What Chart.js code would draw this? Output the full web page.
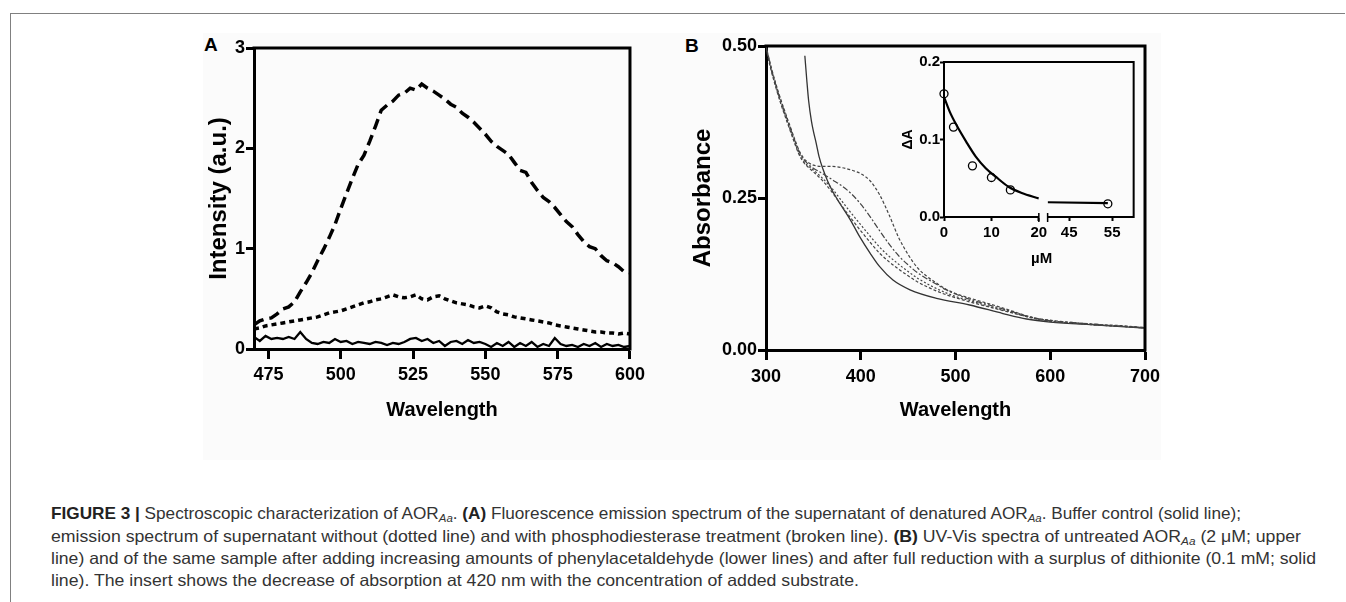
<!DOCTYPE html>
<html><head><meta charset="utf-8">
<script src="https://cdn.jsdelivr.net/npm/chart.js@4.4.0/dist/chart.umd.min.js"></script>
<style>
html,body{margin:0;padding:0;background:#fff;width:1346px;height:602px;overflow:hidden;position:relative;font-family:"Liberation Sans",Arial,sans-serif}
#frameTop{position:absolute;left:10px;top:13px;width:1335px;height:0;border-top:1px solid #808080}
#frameLeft{position:absolute;left:10px;top:13px;width:0;height:589px;border-left:1px solid #808080}
#figbg{position:absolute;left:203px;top:33px;width:958px;height:427px;background:#fbfbfb}
.cv{position:absolute}
.plabel{position:absolute;font-weight:bold;font-size:19px;line-height:19px;color:#000}
.txt{position:absolute;font-weight:bold;color:#000;white-space:nowrap}
.cap{position:absolute;left:51px;white-space:nowrap;font-size:16.5px;line-height:22px;color:#333;font-family:"Liberation Sans Narrow","Liberation Sans",sans-serif;transform-origin:0 50%}
.cap b{color:#222}
.cap sub{font-size:11px;vertical-align:-3px;line-height:0}
</style></head>
<body>
<div id="figbg"></div>
<div id="frameTop"></div>
<div id="frameLeft"></div>
<div class="plabel" style="left:204px;top:35px">A</div>
<div class="plabel" style="left:685px;top:36px">B</div>
<canvas id="chartA" class="cv" width="500" height="445" style="left:150px;top:30px"></canvas>
<canvas id="chartB" class="cv" width="510" height="445" style="left:660px;top:30px"></canvas>
<canvas id="chartI" class="cv" width="265" height="225" style="left:880px;top:50px"></canvas>
<div class="txt" id="muM" style="left:1031px;top:249px;font-size:15px;line-height:18px">µM</div>

<div class="cap" data-w="1190" style="top:502px"><b>FIGURE 3 |</b> Spectroscopic characterization of AOR<sub><i>Aa</i></sub>. <b>(A)</b> Fluorescence emission spectrum of the supernatant of denatured AOR<sub><i>Aa</i></sub>. Buffer control (solid line);</div>
<div class="cap" data-w="1250" style="top:525px">emission spectrum of supernatant without (dotted line) and with phosphodiesterase treatment (broken line). <b>(B)</b> UV-Vis spectra of untreated AOR<sub><i>Aa</i></sub> (2 μM; upper</div>
<div class="cap" data-w="1265" style="top:547px">line) and of the same sample after adding increasing amounts of phenylacetaldehyde (lower lines) and after full reduction with a surplus of dithionite (0.1 mM; solid</div>
<div class="cap" data-w="808" style="top:569px">line). The insert shows the decrease of absorption at 420 nm with the concentration of added substrate.</div>

<script>
// ---------------- Panel A data ----------------
const aWavelength = [470,472,474,476,478,480,482,484,486,488,490,492,494,496,498,500,502,504,506,508,510,512,514,516,518,520,522,524,526,528,530,532,534,536,538,540,542,544,546,548,550,552,554,556,558,560,562,564,566,568,570,572,574,576,578,580,582,584,586,588,590,592,594,596,598,600];
const aBuffer = [0.12,0.08,0.13,0.10,0.11,0.10,0.12,0.10,0.17,0.10,
  0.06,0.05,0.07,0.06,0.10,0.07,0.08,0.05,0.07,0.06,
  0.05,0.07,0.06,0.04,0.06,0.05,0.07,0.10,0.11,0.08,
  0.10,0.06,0.08,0.03,0.07,0.08,0.05,0.09,0.06,0.07,
  0.05,0.02,0.06,0.03,0.07,0.02,0.06,0.03,0.07,0.02,
  0.05,0.03,0.11,0.05,0.03,0.04,0.02,0.05,0.03,0.06,
  0.02,0.05,0.03,0.04,0.02,0.03];
const aWithoutPDE = [0.20,0.21,0.23,0.24,0.25,0.26,0.27,0.28,0.29,0.30,
  0.31,0.32,0.34,0.36,0.37,0.38,0.40,0.42,0.44,0.46,
  0.47,0.49,0.50,0.52,0.54,0.52,0.51,0.52,0.54,0.50,
  0.49,0.52,0.53,0.50,0.48,0.46,0.45,0.44,0.42,0.41,
  0.43,0.41,0.37,0.35,0.34,0.32,0.31,0.30,0.29,0.28,
  0.27,0.26,0.24,0.23,0.22,0.21,0.20,0.19,0.18,0.17,
  0.17,0.16,0.16,0.15,0.16,0.15];
const aWithPDE = [0.24,0.28,0.30,0.31,0.35,0.40,0.42,0.47,0.57,0.66,
  0.76,0.88,0.99,1.11,1.24,1.40,1.55,1.70,1.84,1.93,
  2.07,2.22,2.38,2.43,2.47,2.53,2.55,2.60,2.58,2.64,
  2.60,2.57,2.53,2.49,2.44,2.41,2.35,2.31,2.26,2.20,
  2.14,2.07,2.02,1.98,1.94,1.86,1.78,1.76,1.66,1.58,
  1.51,1.47,1.41,1.34,1.27,1.22,1.14,1.07,1.02,1.00,
  0.93,0.88,0.86,0.82,0.77,0.76];
const aXTicks = [475,500,525,550,575,600];
const aYTicks = [0,1,2,3];

// ---------------- Panel B data ----------------
const bWavelength = [300,305,310,315,320,325,330,335,340,345,350,360,370,380,390,400,410,420,430,440,450,460,470,480,490,500,520,540,560,580,600,625,650,675,700];
const bUntreated = [0.500,0.468,0.440,0.415,0.392,0.370,0.348,0.328,0.315,0.308,0.304,0.302,0.302,0.300,0.296,0.290,0.278,0.255,0.222,0.185,0.157,0.135,0.121,0.110,0.100,0.093,0.083,0.074,0.064,0.054,0.049,0.045,0.042,0.040,0.037];
const bSubstrate1 = [0.500,0.466,0.438,0.413,0.390,0.368,0.346,0.326,0.313,0.305,0.299,0.290,0.280,0.270,0.257,0.240,0.219,0.196,0.174,0.155,0.140,0.127,0.117,0.108,0.099,0.092,0.081,0.072,0.063,0.054,0.048,0.045,0.042,0.039,0.037];
const bSubstrate2 = [0.498,0.464,0.436,0.410,0.387,0.365,0.343,0.323,0.310,0.302,0.296,0.282,0.265,0.245,0.225,0.206,0.187,0.169,0.154,0.141,0.129,0.118,0.109,0.101,0.094,0.088,0.079,0.070,0.062,0.053,0.048,0.044,0.041,0.039,0.036];
const bSubstrate3 = [0.497,0.462,0.434,0.408,0.385,0.363,0.341,0.321,0.308,0.300,0.293,0.278,0.259,0.237,0.216,0.196,0.177,0.159,0.145,0.133,0.122,0.112,0.104,0.097,0.091,0.086,0.077,0.069,0.061,0.053,0.047,0.044,0.041,0.039,0.036];
const bDithioniteWavelength = [341,343,345,348,350,353,356,360,365,370,378,389,399,410,420,434,452,480,515,550,575,600,650,700];
const bDithionite = [0.484,0.445,0.410,0.376,0.360,0.340,0.318,0.298,0.278,0.262,0.241,0.214,0.186,0.159,0.137,0.115,0.099,0.085,0.074,0.060,0.051,0.046,0.041,0.036];
const bXTicks = [300,400,500,600,700];
const bYTicks = [0,0.25,0.5];

// ---------------- Inset data ----------------
const insetConc = [0,2,6,10,14];
const insetDelta = [0.159,0.116,0.066,0.051,0.035];
const insetConcHigh = [54];
const insetDeltaHigh = [0.017];
const fitConc = [0,1.2,2.6,4.7,6.7,8.8,10.9,13.6,16.4,20];
const fitDelta = [0.155,0.136,0.119,0.097,0.078,0.063,0.052,0.039,0.031,0.024];
const fitConcHigh = [40,54];
const fitDeltaHigh = [0.019,0.018];
const insetXTicksLow = [0,10,20];
const insetXTicksHigh = [45,55];
const insetYTicks = [0,0.1,0.2];

// ---------------- helpers ----------------
const toXY = (xs, ys) => xs.map((x, i) => ({x: x, y: ys[i]}));
Chart.defaults.font.family = "'Liberation Sans', Arial, sans-serif";
Chart.defaults.color = '#000';

const framePlugin = {
  id: 'frame',
  afterDatasetsDraw(chart, args, opts) {
    const a = chart.chartArea, ctx = chart.ctx;
    ctx.save();
    ctx.strokeStyle = '#000';
    ctx.lineWidth = opts.width || 3;
    ctx.lineCap = 'square';
    ctx.beginPath();
    ctx.moveTo(a.left, a.top);
    ctx.lineTo(a.right, a.top);
    ctx.lineTo(a.right, a.bottom);
    ctx.stroke();
    ctx.restore();
  }
};
const breakPlugin = {
  id: 'brk',
  afterDraw(chart) {
    const xl = chart.scales.xl, xr = chart.scales.xr, ctx = chart.ctx;
    const y = xl.top;
    ctx.save();
    ctx.strokeStyle = '#000';
    ctx.lineWidth = 1.5;
    ctx.beginPath();
    ctx.moveTo(xl.right, y - 4); ctx.lineTo(xl.right, y + 5);
    ctx.moveTo(xr.left, y - 4); ctx.lineTo(xr.left, y + 5);
    ctx.stroke();
    ctx.restore();
  }
};
const fixTicks = arr => (s => { s.ticks = arr.map(v => ({value: v})); });
const lineDs = (data, extra) => Object.assign({data: data, borderColor: '#000', backgroundColor: 'transparent', pointRadius: 0, fill: false, tension: 0}, extra);

// ---------------- Panel A ----------------
new Chart(document.getElementById('chartA'), {
  type: 'line',
  data: {datasets: [
    lineDs(toXY(aWavelength, aBuffer), {borderWidth: 2.3}),
    lineDs(toXY(aWavelength, aWithoutPDE), {borderWidth: 3.5, borderDash: [5, 4]}),
    lineDs(toXY(aWavelength, aWithPDE), {borderWidth: 3.5, borderDash: [11, 6]})
  ]},
  options: {
    responsive: false, animation: false, events: [],
    layout: {padding: {top: 18, right: 19, left: 0, bottom: 0}},
    plugins: {legend: {display: false}, tooltip: {enabled: false}, frame: {width: 3}},
    scales: {
      x: {type: 'linear', min: 470, max: 600, afterBuildTicks: fixTicks(aXTicks),
        ticks: {font: {size: 18, weight: 'bold'}, padding: 5, maxRotation: 0, color: '#000'},
        grid: {display: true, drawOnChartArea: false, drawTicks: true, tickLength: 10, tickWidth: 3, tickColor: '#000'},
        border: {display: true, width: 3, color: '#000'},
        title: {display: true, text: 'Wavelength', font: {size: 20, weight: 'bold'}, padding: {top: 0, bottom: 53}, color: '#000'},
        afterFit: s => { s.height = 126; }},
      y: {type: 'linear', min: 0, max: 3, afterBuildTicks: fixTicks(aYTicks),
        ticks: {font: {size: 18, weight: 'bold'}, padding: 1, color: '#000'},
        grid: {display: true, drawOnChartArea: false, drawTicks: true, tickLength: 8, tickWidth: 3, tickColor: '#000'},
        border: {display: true, width: 3, color: '#000'},
        title: {display: true, text: 'Intensity (a.u.)', font: {size: 24, weight: 'bold'}, padding: {top: 55, bottom: 0}, color: '#000'},
        afterFit: s => { s.width = 104; }}
    }
  },
  plugins: [framePlugin]
});

// ---------------- Panel B ----------------
const thin = '#444';
new Chart(document.getElementById('chartB'), {
  type: 'line',
  data: {datasets: [
    lineDs(toXY(bWavelength, bUntreated), {borderWidth: 1.2, borderColor: thin, borderDash: [3, 2], cubicInterpolationMode: 'monotone'}),
    lineDs(toXY(bWavelength, bSubstrate1), {borderWidth: 1.2, borderColor: thin, borderDash: [6, 2, 2, 2], cubicInterpolationMode: 'monotone'}),
    lineDs(toXY(bWavelength, bSubstrate2), {borderWidth: 1.2, borderColor: thin, borderDash: [2, 2], cubicInterpolationMode: 'monotone'}),
    lineDs(toXY(bWavelength, bSubstrate3), {borderWidth: 1.2, borderColor: thin, borderDash: [3, 2], cubicInterpolationMode: 'monotone'}),
    lineDs(toXY(bDithioniteWavelength, bDithionite), {borderWidth: 1.3, borderColor: '#333', cubicInterpolationMode: 'monotone'})
  ]},
  options: {
    responsive: false, animation: false, events: [],
    layout: {padding: {top: 16, right: 25, left: 0, bottom: 0}},
    plugins: {legend: {display: false}, tooltip: {enabled: false}, frame: {width: 3}},
    scales: {
      x: {type: 'linear', min: 300, max: 700, afterBuildTicks: fixTicks(bXTicks),
        ticks: {font: {size: 18, weight: 'bold'}, padding: 6, maxRotation: 0, color: '#000'},
        grid: {display: true, drawOnChartArea: false, drawTicks: true, tickLength: 10, tickWidth: 3, tickColor: '#000'},
        border: {display: true, width: 3, color: '#000'},
        title: {display: true, text: 'Wavelength', font: {size: 20, weight: 'bold'}, padding: {top: 0, bottom: 53}, color: '#000'},
        afterFit: s => { s.height = 125; }},
      y: {type: 'linear', min: 0, max: 0.5, afterBuildTicks: fixTicks(bYTicks),
        ticks: {font: {size: 18, weight: 'bold'}, padding: 1, color: '#000', callback: v => Number(v).toFixed(2)},
        grid: {display: true, drawOnChartArea: false, drawTicks: true, tickLength: 8, tickWidth: 3, tickColor: '#000'},
        border: {display: true, width: 3, color: '#000'},
        title: {display: true, text: 'Absorbance', font: {size: 24, weight: 'bold'}, padding: {top: 29, bottom: 0}, color: '#000'},
        afterFit: s => { s.width = 106; }}
    }
  },
  plugins: [framePlugin]
});

// ---------------- Inset ----------------
const insetTickFont = {size: 15, weight: 'bold'};
const insetGrid = {display: true, drawOnChartArea: false, drawTicks: true, tickLength: 4, tickWidth: 2, tickColor: '#000'};
new Chart(document.getElementById('chartI'), {
  type: 'line',
  data: {datasets: [
    lineDs(toXY(fitConc, fitDelta), {borderWidth: 2.2, xAxisID: 'xl', yAxisID: 'y', cubicInterpolationMode: 'monotone'}),
    lineDs(toXY(fitConcHigh, fitDeltaHigh), {borderWidth: 2.2, xAxisID: 'xr', yAxisID: 'y'}),
    {data: toXY(insetConc, insetDelta), xAxisID: 'xl', yAxisID: 'y', showLine: false, pointRadius: 4, pointBorderWidth: 1.3,
      pointBorderColor: '#000', pointBackgroundColor: 'rgba(255,255,255,0)', clip: false},
    {data: toXY(insetConcHigh, insetDeltaHigh), xAxisID: 'xr', yAxisID: 'y', showLine: false, pointRadius: 4, pointBorderWidth: 1.3,
      pointBorderColor: '#000', pointBackgroundColor: 'rgba(255,255,255,0)', clip: false}
  ]},
  options: {
    responsive: false, animation: false, events: [],
    layout: {padding: {top: 12, right: 7, left: 0, bottom: 0}},
    plugins: {legend: {display: false}, tooltip: {enabled: false}, frame: {width: 2}},
    scales: {
      xl: {type: 'linear', position: 'bottom', stack: 'ins', stackWeight: 97, min: 0, max: 20, afterBuildTicks: fixTicks(insetXTicksLow),
        ticks: {font: insetTickFont, padding: 3, maxRotation: 0, color: '#000'},
        grid: insetGrid, border: {display: true, width: 2, color: '#000'},
        afterFit: s => { s.height = 58; }},
      xg: {type: 'linear', position: 'bottom', stack: 'ins', stackWeight: 9, min: 0, max: 1,
        ticks: {display: false}, grid: {display: false}, border: {display: false},
        afterFit: s => { s.height = 58; }},
      xr: {type: 'linear', position: 'bottom', stack: 'ins', stackWeight: 88, min: 40, max: 60, afterBuildTicks: fixTicks(insetXTicksHigh),
        ticks: {font: insetTickFont, padding: 3, maxRotation: 0, color: '#000'},
        grid: insetGrid, border: {display: true, width: 2, color: '#000'},
        afterFit: s => { s.height = 58; }},
      y: {type: 'linear', position: 'left', min: 0, max: 0.2, afterBuildTicks: fixTicks(insetYTicks),
        ticks: {font: insetTickFont, padding: 0, color: '#000', callback: v => Number(v).toFixed(1)},
        grid: insetGrid, border: {display: true, width: 2, color: '#000'},
        title: {display: true, text: 'ΔA', font: {size: 14, weight: 'bold'}, padding: {top: 20, bottom: 0}, color: '#000'},
        afterFit: s => { s.width = 64; }}
    }
  },
  plugins: [framePlugin, breakPlugin]
});

// fit caption lines to the measured widths of the reference
document.querySelectorAll('.cap').forEach(el => {
  const w = el.getBoundingClientRect().width;
  const t = +el.dataset.w;
  if (w > 0) el.style.transform = 'scaleX(' + (t / w) + ')';
});
</script>
</body></html>
